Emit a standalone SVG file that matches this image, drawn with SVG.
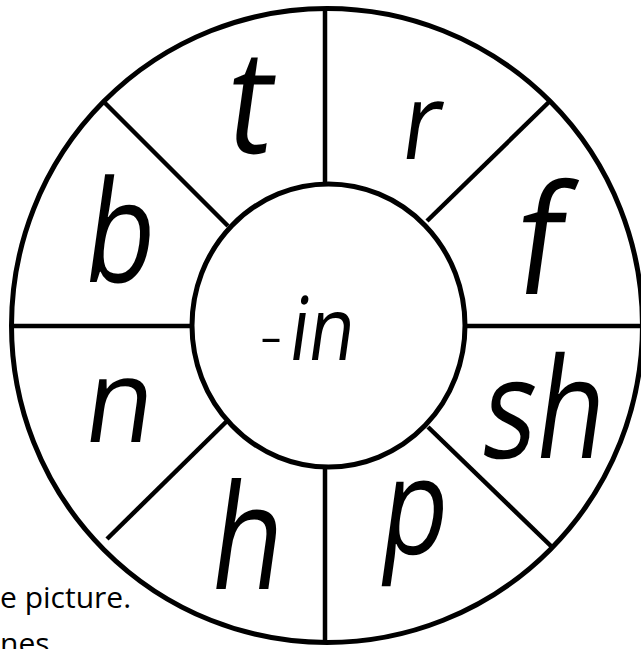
<svg xmlns="http://www.w3.org/2000/svg" width="641" height="649" viewBox="0 0 641 649">
<style>
.ring{fill:none;stroke:#000;stroke-width:5}
.spoke{stroke:#000;stroke-width:4.5;fill:none}
.letter{font-family:"Open Sans","DejaVu Sans",sans-serif;font-weight:400;fill:#000;text-anchor:middle}
.note{font-family:"Open Sans","DejaVu Sans",sans-serif;font-size:30px;fill:#000}
</style>
<rect width="641" height="649" fill="#fff"/>
<g id="connectors">
<line class="spoke" x1="325" y1="9" x2="325" y2="184"/>
<line class="spoke" x1="325" y1="467" x2="325" y2="643"/>
<line class="spoke" x1="11" y1="326" x2="192" y2="326"/>
<line class="spoke" x1="465" y1="326" x2="641" y2="326"/>
<line class="spoke" x1="105" y1="103" x2="228" y2="226"/>
<line class="spoke" x1="428" y1="427" x2="553" y2="548"/>
<line class="spoke" x1="427" y1="221" x2="550" y2="101"/>
<line class="spoke" x1="227" y1="421" x2="107" y2="539"/>
</g>
<g id="outer-ring"><ellipse class="ring" cx="327" cy="325.5" rx="315.5" ry="317"/></g>
<g id="center">
<ellipse class="ring" cx="328.5" cy="325.5" rx="136.5" ry="141.5"/>
<text class="letter" transform="translate(319,360) skewX(-8) scale(0.85,1)" style="font-size:88px">in</text>
<text class="letter" x="271" y="359" style="font-size:70px;font-weight:300">-</text>
</g>
<g id="seg-t"><text class="letter" transform="translate(245,153) skewX(-8) scale(0.9,1)" style="font-size:145px">t</text></g>
<g id="seg-r"><text class="letter" transform="translate(418,159) skewX(-8) scale(0.9,1)" style="font-size:106px">r</text></g>
<g id="seg-f"><text class="letter" transform="translate(534,294) skewX(-8) scale(0.9,1)" style="font-size:152px">f</text></g>
<g id="seg-sh"><text class="letter" transform="translate(539,458) skewX(-8) scale(0.8,1)" style="font-size:140px">sh</text></g>
<g id="seg-p"><text class="letter" transform="translate(410,554) skewX(-8) scale(0.8,1)" style="font-size:135px">p</text></g>
<g id="seg-h"><text class="letter" transform="translate(242,589) skewX(-8) scale(0.8,1)" style="font-size:146px">h</text></g>
<g id="seg-n"><text class="letter" transform="translate(115,442) skewX(-8) scale(0.95,1)" style="font-size:117px">n</text></g>
<g id="seg-b"><text class="letter" transform="translate(115,282) skewX(-8) scale(0.8,1)" style="font-size:142px">b</text></g>
<g id="caption">
<text class="note" x="0" y="608">e picture.</text>
<text class="note" x="0" y="654">nes</text>
</g>
</svg>
